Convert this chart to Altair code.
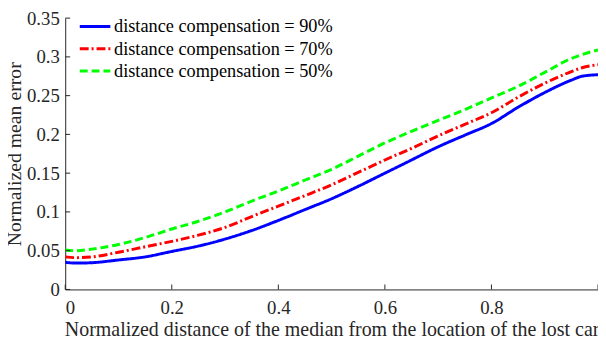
import altair as alt
import pandas as pd

# ---- data ----
x_vals = [0, 0.02, 0.05, 0.1, 0.15, 0.2, 0.25, 0.3, 0.35, 0.4, 0.45, 0.5,
          0.55, 0.6, 0.65, 0.7, 0.75, 0.8, 0.85, 0.9, 0.95, 0.97, 1.0]
comp_90 = [0.035, 0.034, 0.0345, 0.038, 0.042, 0.049, 0.056, 0.065, 0.076, 0.089, 0.103, 0.117,
           0.133, 0.150, 0.167, 0.184, 0.199, 0.214, 0.235, 0.254, 0.270, 0.275, 0.277]
comp_70 = [0.042, 0.041, 0.042, 0.048, 0.055, 0.062, 0.070, 0.080, 0.094, 0.1075, 0.121, 0.135,
           0.151, 0.167, 0.182, 0.198, 0.213, 0.228, 0.248, 0.266, 0.281, 0.286, 0.290]
comp_50 = [0.051, 0.050, 0.052, 0.058, 0.067, 0.078, 0.088, 0.100, 0.114, 0.127, 0.141, 0.155,
           0.172, 0.189, 0.204, 0.218, 0.232, 0.247, 0.262, 0.280, 0.298, 0.303, 0.309]

series_names = ["distance compensation = 90%",
                "distance compensation = 70%",
                "distance compensation = 50%"]
series_colors = ["#0000ff", "#ff0000", "#00ff00"]
series_dashes = [[1, 0], [9, 3, 2, 3], [8, 4]]

x_ticks = [0, 0.2, 0.4, 0.6, 0.8, 1.0]
x_labels = [0, 0.2, 0.4, 0.6, 0.8]
y_ticks = [0, 0.05, 0.1, 0.15, 0.2, 0.25, 0.3, 0.35]

x_title = "Normalized distance of the median from the location of the lost car"
y_title = "Normalized mean error"

rows = []
for name, ys in zip(series_names, [comp_90, comp_70, comp_50]):
    for xv, yv in zip(x_vals, ys):
        rows.append({"x": xv, "y": yv, "series": name})
df = pd.DataFrame(rows)

W, H = 540, 275
FONT = "Liberation Serif"
AX = "#262626"

x_scale = alt.Scale(domain=[0, 1], nice=False, zero=False)
y_scale = alt.Scale(domain=[0, 0.35], nice=False, zero=False)

x_axis = alt.Axis(values=x_labels, format="~g", title=x_title,
                  labelPadding=9, titlePadding=3, titleFontSize=20.2)
y_axis = alt.Axis(values=y_ticks, format="~g", title=y_title,
                  labelPadding=6, titlePadding=2, titleFontSize=20)

legend = alt.Legend(title=None, orient="none", legendX=13, legendY=-1,
                    symbolType="M-1,0H3", symbolSize=240, symbolStrokeWidth=3,
                    symbolFillColor="transparent",
                    labelFont=FONT, labelFontSize=18.5, labelColor="#000000",
                    labelLimit=0, labelOffset=17.5, rowPadding=3.5, padding=0)

lines = alt.Chart(df).mark_line(strokeWidth=3, clip=True, interpolate="monotone").encode(
    x=alt.X("x:Q", scale=x_scale, axis=x_axis),
    y=alt.Y("y:Q", scale=y_scale, axis=y_axis),
    color=alt.Color("series:N", scale=alt.Scale(domain=series_names, range=series_colors),
                    legend=legend),
    strokeDash=alt.StrokeDash("series:N", scale=alt.Scale(domain=series_names, range=series_dashes),
                              legend=legend),
    order=alt.Order("x:Q"),
)

xt = alt.Chart(pd.DataFrame({"x": x_ticks})).mark_rule(color=AX, strokeWidth=1).encode(
    x=alt.X("x:Q", scale=x_scale, axis=x_axis),
    y=alt.value(H), y2=alt.value(H - 5),
)
yt = alt.Chart(pd.DataFrame({"y": y_ticks})).mark_rule(color=AX, strokeWidth=1).encode(
    y=alt.Y("y:Q", scale=y_scale, axis=y_axis),
    x=alt.value(0), x2=alt.value(5),
)

chart = alt.layer(lines, xt, yt).properties(
    width=W, height=H,
    background="white",
    autosize=alt.AutoSizeParams(type="none"),
    padding={"left": 58, "top": 8, "right": 0, "bottom": 50},
).configure_view(stroke=None).configure_axis(
    grid=False, ticks=False, tickSize=0,
    domainColor=AX, domainWidth=1,
    labelFont=FONT, labelFontSize=19, labelColor=AX,
    titleFont=FONT, titleFontWeight="normal", titleColor=AX,
)

chart.save("out.html", embed_options={"renderer": "svg", "actions": False})
